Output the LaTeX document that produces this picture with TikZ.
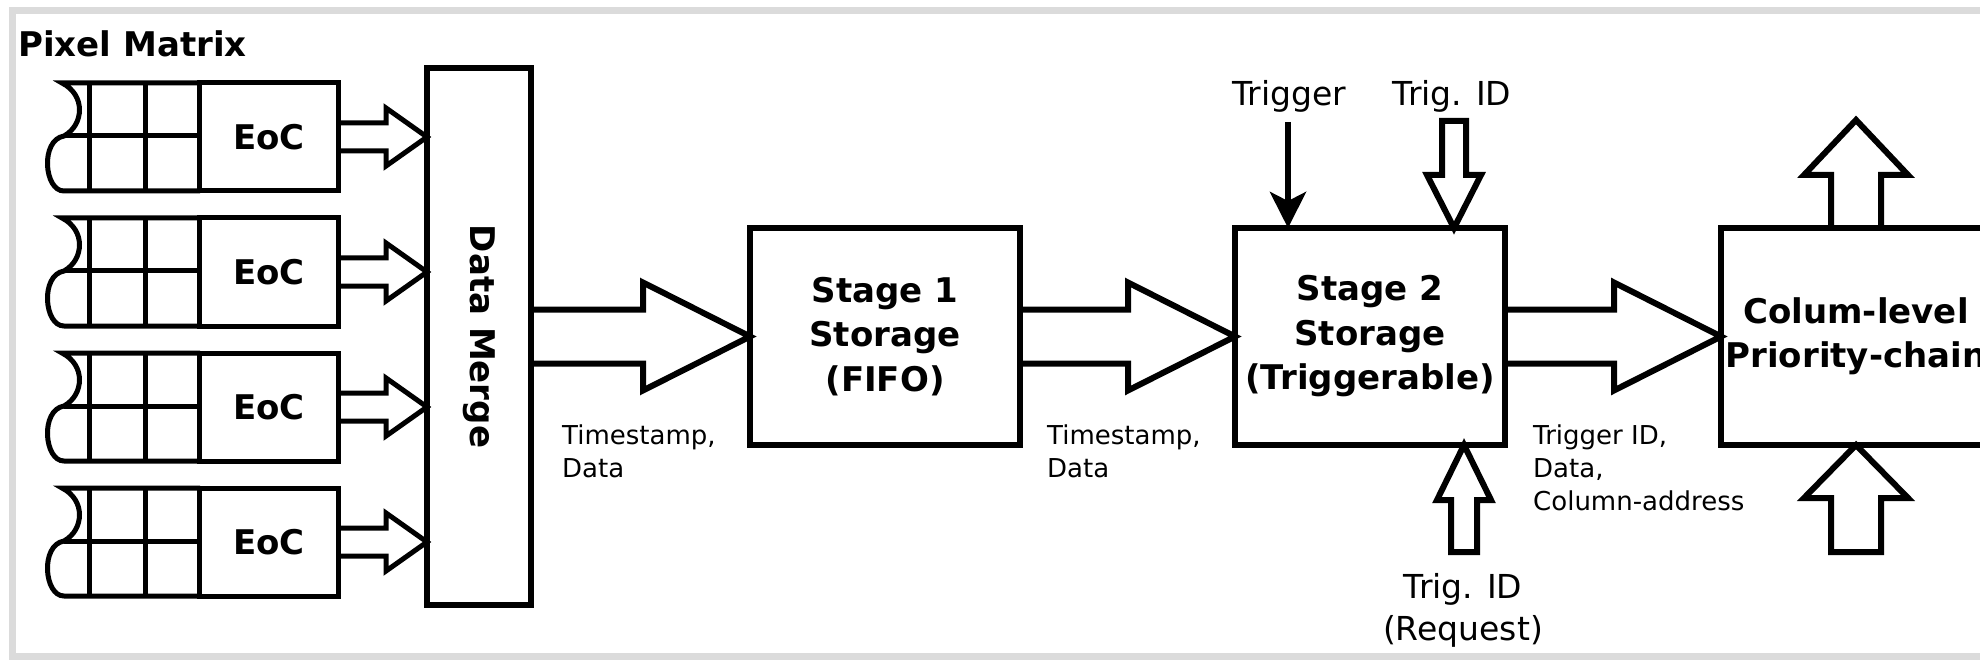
\documentclass[tikz,border=0pt]{standalone}
\usepackage{fontspec}
\setmainfont{DejaVu Sans}
\usetikzlibrary{arrows.meta,calc}

% horizontal hollow arrow: #1 style, #2 tail, #3 tip, #4 shaft half, #5 head half, #6 head length
\newcommand\harrow[6]{%
  \draw[#1] let \p1=(#2), \p2=(#3) in
   (\x1,{\y2+#4pt}) -- ({\x2-#6pt},{\y2+#4pt}) -- ({\x2-#6pt},{\y2+#5pt}) -- (\x2,\y2)
   -- ({\x2-#6pt},{\y2-#5pt}) -- ({\x2-#6pt},{\y2-#4pt}) -- (\x1,{\y2-#4pt});}
% vertical hollow arrow: #1 tail, #2 tip, #3 shaft half, #4 head half, #5 head length, #6 dir (1 up, -1 down), #7 closing
\newcommand\varrow[7]{%
  \draw[fat] let \p1=(#1), \p2=(#2) in
   ({\x2-#3pt},\y1) -- ({\x2-#3pt},{\y2-(#6)*#5pt}) -- ({\x2-#4pt},{\y2-(#6)*#5pt}) -- (\x2,\y2)
   -- ({\x2+#4pt},{\y2-(#6)*#5pt}) -- ({\x2+#3pt},{\y2-(#6)*#5pt}) -- ({\x2+#3pt},\y1) #7;}

\tikzset{
  frame/.style={draw=black!14, line width=7pt},
  box/.style={draw, line width=6pt, line join=miter, inner sep=0pt, outer sep=0pt,
    align=center, font=\bfseries\fontsize{34}{44.5}\selectfont},
  eocbox/.style={box, line width=5pt, minimum width=139pt, minimum height=108pt},
  stagebox/.style={box, minimum width=270pt, minimum height=217pt},
  grid/.style={line width=5pt, line join=miter},
  fat/.style={draw, line width=6pt, line join=miter},
  fatsmall/.style={draw, line width=5pt, line join=miter},
  lbl/.style={font=\fontsize{26}{33}\selectfont, align=left, inner sep=0pt, anchor=north west},
  sig/.style={font=\fontsize{33}{42}\selectfont, align=center, inner sep=0pt},
  title/.style={font=\bfseries\fontsize{34}{40}\selectfont, inner sep=0pt},
  thinarr/.style={line width=6pt, -{Stealth[length=36pt,width=36pt,inset=9pt]}},
}

\begin{document}
\begin{tikzpicture}[x=1pt,y=-1pt]
\useasboundingbox (0,0) rectangle (1980,660);
\fill[white] (0,0) rectangle (1980,660);
\clip (0,0) rectangle (1980,660);
\draw[frame] (12.5,10.5) rectangle (2100,656);

\node[title, anchor=base west] (pm) at (18,57) {Pixel Matrix};

% data merge
\node[box, minimum width=104pt, minimum height=537pt] (dm) at (479,336.5) {};
\node[title, rotate=-90] (dmt) at (dm.center) {Data Merge};

% pixel columns with end-of-column blocks
\foreach \T [count=\i] in {83,218,353,488} {
  \node[eocbox] (eoc\i) at (269,\T+54) {EoC};
  \draw[grid] (200,\T) -- (62,\T) .. controls (86,\T+12) and (84,\T+42) .. (64,\T+53)
     .. controls (40,\T+57) and (44,\T+108) .. (64,\T+108) -- (200,\T+108);
  \draw[grid] (64,\T+53) -- (200,\T+53) (89,\T) -- (89,\T+108) (145,\T) -- (145,\T+108);
  \harrow{fatsmall}{eoc\i.east}{dm.west |- eoc\i.east}{14}{29}{41}
}

% storage stages
\node[stagebox] (s1) at (885,336.5) {Stage 1\\Storage\\(FIFO)};
\node[stagebox] (s2) at (1370,336.5) {Stage 2\\Storage\\(Triggerable)};
\node[stagebox] (col) at (1856,336.5) {Colum-level\\Priority-chain};

\harrow{fat}{dm.east}{s1.west}{27}{54}{107}
\harrow{fat}{s1.east}{s2.west}{27}{54}{107}
\harrow{fat}{s2.east}{col.west}{27}{54}{107}

\node[lbl] (l1) at (562,425) {Timestamp,\\Data};
\node[lbl] (l2) at (1047,425) {Timestamp,\\Data};
\node[lbl] (l3) at (1533,425) {Trigger ID,\\Data,\\Column-address};

% trigger inputs
\node[sig, anchor=base] (trig) at (1289,106) {Trigger};
\node[sig, anchor=base] (tid) at (1452,106) {Trig. ID};
\node[sig, anchor=north] (treq) at (1463,573) {Trig. ID\\(Request)};

\coordinate (trigA) at (1288,122);
\draw[thinarr] (trigA) -- (trigA |- s2.north);

\coordinate (tidA) at (1454,121);
\varrow{tidA}{tidA |- s2.north}{12}{27}{53}{-1}{-- cycle}

\coordinate (treqA) at (1464,552);
\varrow{treqA}{treqA |- s2.south}{13}{27}{55}{1}{-- cycle}

% priority chain connections
\coordinate (colTop) at (1856,120);
\varrow{col.north}{colTop}{25}{52}{55}{1}{}
\coordinate (colBot) at (1856,552);
\varrow{colBot}{colBot |- col.south}{25}{52}{53}{1}{-- cycle}
\end{tikzpicture}
\end{document}
